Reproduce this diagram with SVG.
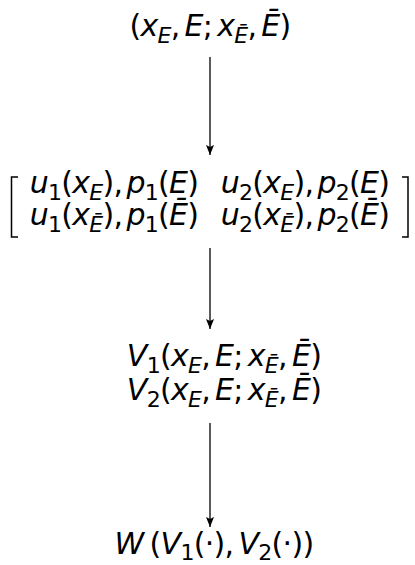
<svg xmlns="http://www.w3.org/2000/svg" width="415" height="565" viewBox="0 0 415 565">
<defs>
<style>
.m{font-family:"DejaVu Sans",sans-serif;font-size:30px;fill:#000;text-anchor:middle;letter-spacing:-0.7px}
.i{font-style:italic}
.s{font-style:italic;font-size:22px}
.n{font-size:22px}
.c{stroke:#000;stroke-width:1.3;fill:none}
.b{stroke:#000;stroke-width:1.5;fill:none}
</style>
<marker id="ad" markerUnits="userSpaceOnUse" markerWidth="10" markerHeight="11" refX="4" refY="10" orient="0" viewBox="0 0 8 11">
<path d="M0,0 L4,2 L8,0 L4,10 Z" fill="#000"/>
</marker>
</defs>
<g id="connectors">
<line class="c" x1="210" y1="57" x2="210" y2="155" marker-end="url(#ad)"/>
<line class="c" x1="210" y1="248" x2="210" y2="329" marker-end="url(#ad)"/>
<line class="c" x1="210" y1="423" x2="210" y2="527" marker-end="url(#ad)"/>
</g>
<g id="state">
<text class="m" x="210" y="36">(<tspan class="i">x</tspan><tspan class="s" dy="7">E</tspan><tspan dy="-7">,</tspan><tspan class="i" dx="5">E</tspan>;<tspan class="i" dx="5">x</tspan><tspan class="s" dy="7">Ē</tspan><tspan dy="-7">,</tspan><tspan class="i" dx="5">Ē</tspan>)</text>
</g>
<g id="matrix">
<path class="b" d="M18,177 H11.5 V237 H18"/>
<path class="b" d="M402,177 H408 V237 H402"/>
<text class="m" x="114" y="193"><tspan class="i">u</tspan><tspan class="n" dy="7">1</tspan><tspan dy="-7">(</tspan><tspan class="i">x</tspan><tspan class="s" dy="7">E</tspan><tspan dy="-7">),</tspan><tspan class="i" dx="4">p</tspan><tspan class="n" dy="7">1</tspan><tspan dy="-7">(</tspan><tspan class="i">E</tspan>)</text>
<text class="m" x="305" y="193"><tspan class="i">u</tspan><tspan class="n" dy="7">2</tspan><tspan dy="-7">(</tspan><tspan class="i">x</tspan><tspan class="s" dy="7">E</tspan><tspan dy="-7">),</tspan><tspan class="i" dx="4">p</tspan><tspan class="n" dy="7">2</tspan><tspan dy="-7">(</tspan><tspan class="i">E</tspan>)</text>
<text class="m" x="114" y="225"><tspan class="i">u</tspan><tspan class="n" dy="7">1</tspan><tspan dy="-7">(</tspan><tspan class="i">x</tspan><tspan class="s" dy="7">Ē</tspan><tspan dy="-7">),</tspan><tspan class="i" dx="4">p</tspan><tspan class="n" dy="7">1</tspan><tspan dy="-7">(</tspan><tspan class="i">Ē</tspan>)</text>
<text class="m" x="305" y="225"><tspan class="i">u</tspan><tspan class="n" dy="7">2</tspan><tspan dy="-7">(</tspan><tspan class="i">x</tspan><tspan class="s" dy="7">Ē</tspan><tspan dy="-7">),</tspan><tspan class="i" dx="4">p</tspan><tspan class="n" dy="7">2</tspan><tspan dy="-7">(</tspan><tspan class="i">Ē</tspan>)</text>
</g>
<g id="values">
<text class="m" x="224" y="366"><tspan class="i">V</tspan><tspan class="n" dy="7">1</tspan><tspan dy="-7">(</tspan><tspan class="i">x</tspan><tspan class="s" dy="7">E</tspan><tspan dy="-7">,</tspan><tspan class="i" dx="5">E</tspan>;<tspan class="i" dx="5">x</tspan><tspan class="s" dy="7">Ē</tspan><tspan dy="-7">,</tspan><tspan class="i" dx="5">Ē</tspan>)</text>
<text class="m" x="224" y="400"><tspan class="i">V</tspan><tspan class="n" dy="7">2</tspan><tspan dy="-7">(</tspan><tspan class="i">x</tspan><tspan class="s" dy="7">E</tspan><tspan dy="-7">,</tspan><tspan class="i" dx="5">E</tspan>;<tspan class="i" dx="5">x</tspan><tspan class="s" dy="7">Ē</tspan><tspan dy="-7">,</tspan><tspan class="i" dx="5">Ē</tspan>)</text>
</g>
<g id="welfare">
<text class="m" x="214" y="554"><tspan class="i">W</tspan><tspan dx="6">(</tspan><tspan class="i">V</tspan><tspan class="n" dy="6">1</tspan><tspan dy="-6">(·),</tspan><tspan class="i" dx="5">V</tspan><tspan class="n" dy="6">2</tspan><tspan dy="-6">(·))</tspan></text>
</g>
</svg>
